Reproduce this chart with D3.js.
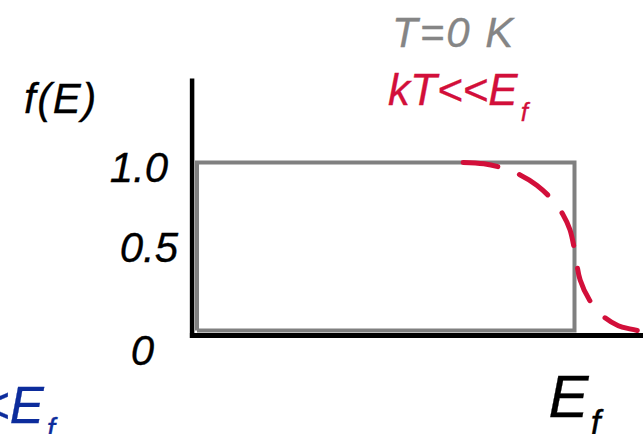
<!DOCTYPE html>
<html>
<head>
<meta charset="utf-8">
<script src="https://cdn.jsdelivr.net/npm/d3@7"></script>
<style>
  body { margin: 0; background: #fff; }
  svg { display: block; font-family: "Liberation Sans", Arial, sans-serif; font-style: italic; }
  text { stroke-width: 0.3; paint-order: stroke; }
</style>
</head>
<body>
<script>
// T = 0 K step (E in units of Ef)
const stepE = [0, 0, 1, 1, 0];
const stepF = [0, 1, 1, 0, 0];

// kT << Ef curve
const fermiE = [0.705, 0.76, 0.811, 0.856, 0.90, 0.940, 0.970, 0.988, 1.001, 1.015, 1.040, 1.072, 1.116, 1.15, 1.19];
const fermiF = [1.0, 0.992, 0.966, 0.926, 0.865, 0.781, 0.688, 0.60, 0.469, 0.30, 0.18, 0.092, 0.028, 0.008, -0.01];

const yTicks = [1.0, 0.5, 0];
const yTickLabels = ["1.0", "0.5", "0"];
const tickNudge = [[-24, 19.5], [-14, 15.5], [-38, 34.5]];

var w = 643;
var h = 434;

const svg = d3.select("body").append("svg")
  .attr("width", w)
  .attr("height", h);

const xScale = d3.scaleLinear().domain([0, 1.2]).range([197, 197 + 1.2 * 377.5]);
const yScale = d3.scaleLinear().domain([0, 1.5]).range([330.5, 78.5]);

const line = d3.line()
  .x(d => xScale(d[0]))
  .y(d => yScale(d[1]));

// gray step
svg.append("path")
  .attr("d", line(stepE.map((e, i) => [e, stepF[i]])))
  .attr("fill", "none")
  .attr("stroke", "#808080")
  .attr("stroke-width", 4)
  .attr("stroke-linejoin", "miter");

// red dashed
svg.append("path")
  .attr("d", line.curve(d3.curveCatmullRom)(fermiE.map((e, i) => [e, fermiF[i]])))
  .attr("fill", "none")
  .attr("stroke", "#D20F3A")
  .attr("stroke-width", 5)
  .attr("stroke-linecap", "round")
  .attr("stroke-dasharray", "35,23");

// axes
const axisX = xScale(-0.013);
const axisY = yScale(-0.03);
svg.append("line")
  .attr("x1", axisX).attr("x2", axisX)
  .attr("y1", yScale(1.5)).attr("y2", axisY + 2.5)
  .attr("stroke", "#000").attr("stroke-width", 4.5);
svg.append("line")
  .attr("x1", axisX - 2.2).attr("x2", w)
  .attr("y1", axisY).attr("y2", axisY)
  .attr("stroke", "#000").attr("stroke-width", 5);

// tick labels
svg.selectAll(".ytick")
  .data(yTicks)
  .enter()
  .append("text")
  .attr("class", "ytick")
  .attr("x", (d, i) => axisX + tickNudge[i][0])
  .attr("y", (d, i) => yScale(d) + tickNudge[i][1])
  .attr("text-anchor", "end")
  .attr("font-size", 42)
  .attr("stroke", "#000")
  .text((d, i) => yTickLabels[i]);

// axis titles
svg.append("text")
  .attr("x", 24).attr("y", 113)
  .attr("font-size", 42)
  .attr("letter-spacing", 1.5)
  .attr("stroke", "#000")
  .text("f(E)");

const ef = svg.append("text")
  .attr("x", xScale(1) - 26).attr("y", 417)
  .attr("font-size", 60)
  .attr("stroke", "#000");
ef.append("tspan").text("E");
ef.append("tspan").attr("font-size", 36).attr("dy", 19).attr("dx", 2).text("f");

// legend
svg.append("text")
  .attr("x", 392).attr("y", 47)
  .attr("font-size", 42)
  .attr("letter-spacing", 2)
  .attr("fill", "#858585")
  .attr("stroke", "#858585")
  .text("T=0 K");

const red = svg.append("text")
  .attr("x", 388).attr("y", 105)
  .attr("font-size", 44)
  .attr("fill", "#D20F3A")
  .attr("stroke", "#D20F3A");
red.append("tspan").text("kT<<E");
red.append("tspan").attr("font-size", 26).attr("dy", 16).attr("dx", 3).text("f");

const blue = svg.append("text")
  .attr("x", 55).attr("y", 423)
  .attr("text-anchor", "end")
  .attr("font-size", 51)
  .attr("fill", "#0C2C9C")
  .attr("stroke", "#0C2C9C");
blue.append("tspan").text("kT<<E");
blue.append("tspan").attr("font-size", 30).attr("dy", 16).attr("dx", 3).text("f");
</script>
</body>
</html>
